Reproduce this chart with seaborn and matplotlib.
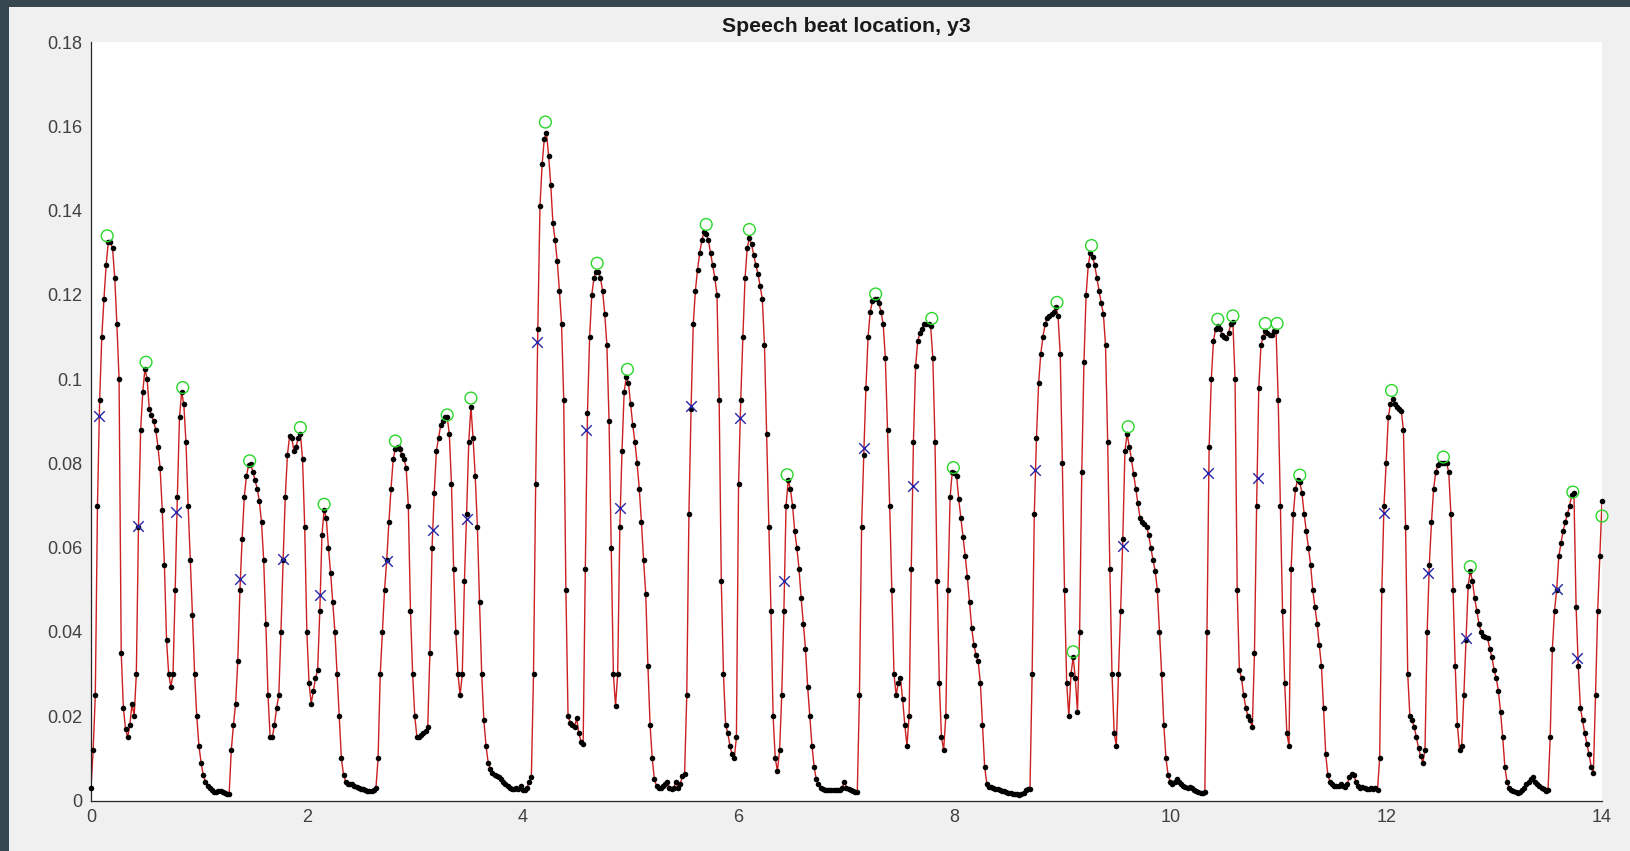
import numpy as np
import pandas as pd
import matplotlib
matplotlib.use("Agg")
import matplotlib.pyplot as plt
from matplotlib.patches import Rectangle
import seaborn as sns

# ---------------- data ----------------
SAMPLE_STEP = 0.02  # seconds between samples of the envelope

y_00 = [0.003, 0.012, 0.025, 0.070, 0.095, 0.110, 0.119, 0.127, 0.1325, 0.1325,
        0.131, 0.124, 0.113, 0.100, 0.035, 0.022, 0.017, 0.015, 0.018, 0.023,
        0.020, 0.030, 0.065, 0.088, 0.097, 0.1025, 0.100, 0.093, 0.0915, 0.090,
        0.088, 0.084, 0.079, 0.069, 0.056, 0.038, 0.030, 0.027, 0.030, 0.050,
        0.072, 0.091, 0.097, 0.094, 0.085, 0.070, 0.057, 0.044, 0.030, 0.020]
y_01 = [0.013, 0.009, 0.006, 0.0045, 0.0035, 0.003, 0.0025, 0.002, 0.002, 0.0022,
        0.0022, 0.002, 0.0018, 0.0016, 0.0016, 0.012, 0.018, 0.023, 0.033, 0.050,
        0.062, 0.072, 0.077, 0.0795, 0.0798, 0.078, 0.076, 0.074, 0.071, 0.066,
        0.057, 0.042, 0.025, 0.015, 0.015, 0.018, 0.022, 0.025, 0.040, 0.057,
        0.072, 0.082, 0.0865, 0.086, 0.083, 0.084, 0.086, 0.087, 0.081, 0.065]
y_02 = [0.040, 0.028, 0.023, 0.026, 0.029, 0.031, 0.045, 0.063, 0.069, 0.067,
        0.060, 0.054, 0.047, 0.040, 0.030, 0.020, 0.010, 0.006, 0.0045, 0.004,
        0.004, 0.0038, 0.0035, 0.0033, 0.003, 0.0028, 0.0027, 0.0025, 0.0023, 0.0022,
        0.0023, 0.0025, 0.003, 0.010, 0.030, 0.040, 0.050, 0.057, 0.066, 0.074,
        0.081, 0.0835, 0.084, 0.0835, 0.082, 0.081, 0.079, 0.070, 0.045, 0.030]
y_03 = [0.020, 0.015, 0.015, 0.0155, 0.016, 0.0165, 0.0175, 0.035, 0.060, 0.073,
        0.083, 0.086, 0.089, 0.090, 0.091, 0.091, 0.087, 0.075, 0.055, 0.040,
        0.030, 0.025, 0.030, 0.052, 0.068, 0.085, 0.0935, 0.086, 0.077, 0.065,
        0.047, 0.030, 0.019, 0.013, 0.009, 0.0075, 0.0065, 0.006, 0.0058, 0.0056,
        0.005, 0.0045, 0.004, 0.0035, 0.003, 0.0028, 0.0028, 0.003, 0.0028, 0.0035]
y_04 = [0.0025, 0.0025, 0.003, 0.0045, 0.0055, 0.030, 0.075, 0.112, 0.141, 0.151,
        0.157, 0.1585, 0.153, 0.146, 0.137, 0.133, 0.128, 0.121, 0.113, 0.095,
        0.050, 0.020, 0.0185, 0.018, 0.0175, 0.0195, 0.016, 0.014, 0.0135, 0.055,
        0.092, 0.110, 0.120, 0.124, 0.1255, 0.1255, 0.124, 0.121, 0.1155, 0.108,
        0.090, 0.060, 0.030, 0.0225, 0.030, 0.065, 0.083, 0.097, 0.1005, 0.099]
y_05 = [0.094, 0.089, 0.085, 0.080, 0.074, 0.066, 0.057, 0.049, 0.032, 0.018,
        0.010, 0.005, 0.0035, 0.003, 0.003, 0.0035, 0.004, 0.0045, 0.003, 0.0028,
        0.003, 0.0045, 0.003, 0.004, 0.0058, 0.0063, 0.025, 0.068, 0.093, 0.113,
        0.121, 0.126, 0.130, 0.133, 0.1348, 0.1345, 0.133, 0.130, 0.127, 0.124,
        0.120, 0.095, 0.052, 0.030, 0.018, 0.016, 0.013, 0.011, 0.010, 0.015]
y_06 = [0.075, 0.095, 0.110, 0.124, 0.131, 0.1335, 0.132, 0.1295, 0.127, 0.125,
        0.122, 0.119, 0.108, 0.087, 0.065, 0.045, 0.020, 0.010, 0.007, 0.012,
        0.025, 0.045, 0.070, 0.076, 0.074, 0.070, 0.064, 0.060, 0.055, 0.048,
        0.042, 0.036, 0.027, 0.020, 0.013, 0.008, 0.005, 0.004, 0.003, 0.0028,
        0.0026, 0.0025, 0.0025, 0.0025, 0.0025, 0.0026, 0.0026, 0.0026, 0.003, 0.0045]
y_07 = [0.003, 0.0028, 0.0025, 0.0022, 0.002, 0.002, 0.025, 0.065, 0.082, 0.098,
        0.110, 0.116, 0.1185, 0.119, 0.119, 0.118, 0.116, 0.113, 0.105, 0.088,
        0.070, 0.050, 0.030, 0.025, 0.028, 0.029, 0.024, 0.018, 0.013, 0.020,
        0.055, 0.085, 0.103, 0.109, 0.111, 0.112, 0.113, 0.113, 0.113, 0.1125,
        0.105, 0.085, 0.052, 0.028, 0.015, 0.012, 0.020, 0.050, 0.072, 0.078]
y_08 = [0.0778, 0.077, 0.0715, 0.067, 0.0625, 0.058, 0.053, 0.047, 0.041, 0.037,
        0.0345, 0.033, 0.028, 0.018, 0.008, 0.004, 0.0033, 0.0032, 0.003, 0.0028,
        0.0027, 0.0025, 0.0023, 0.0022, 0.002, 0.0018, 0.0017, 0.0016, 0.0015, 0.0015,
        0.0014, 0.0016, 0.0018, 0.0025, 0.0028, 0.0028, 0.030, 0.068, 0.086, 0.099,
        0.106, 0.110, 0.113, 0.1145, 0.115, 0.1155, 0.116, 0.117, 0.115, 0.106]
y_09 = [0.080, 0.050, 0.028, 0.020, 0.030, 0.034, 0.029, 0.021, 0.040, 0.078,
        0.104, 0.120, 0.127, 0.130, 0.129, 0.127, 0.124, 0.121, 0.118, 0.1155,
        0.108, 0.085, 0.055, 0.030, 0.016, 0.013, 0.030, 0.045, 0.062, 0.083,
        0.087, 0.084, 0.081, 0.0775, 0.074, 0.0705, 0.067, 0.066, 0.0655, 0.065,
        0.063, 0.060, 0.057, 0.0545, 0.050, 0.040, 0.030, 0.018, 0.010, 0.006]
y_10 = [0.0045, 0.004, 0.0045, 0.005, 0.0045, 0.004, 0.0035, 0.0032, 0.003, 0.0033,
        0.003, 0.0025, 0.0022, 0.002, 0.0018, 0.0018, 0.002, 0.040, 0.084, 0.100,
        0.109, 0.112, 0.1127, 0.112, 0.1105, 0.110, 0.1098, 0.111, 0.113, 0.1135,
        0.100, 0.050, 0.031, 0.029, 0.025, 0.022, 0.020, 0.019, 0.0175, 0.035,
        0.070, 0.098, 0.108, 0.110, 0.1115, 0.111, 0.1105, 0.1105, 0.1115, 0.1115]
y_11 = [0.095, 0.070, 0.045, 0.028, 0.016, 0.013, 0.055, 0.068, 0.074, 0.076,
        0.0755, 0.073, 0.068, 0.064, 0.060, 0.056, 0.050, 0.046, 0.042, 0.037,
        0.032, 0.022, 0.011, 0.006, 0.0045, 0.004, 0.0035, 0.0034, 0.0035, 0.004,
        0.0035, 0.0033, 0.004, 0.0055, 0.0063, 0.006, 0.0045, 0.0035, 0.003, 0.0033,
        0.003, 0.0028, 0.0027, 0.003, 0.0028, 0.003, 0.0025, 0.010, 0.050, 0.070]
y_12 = [0.080, 0.091, 0.094, 0.0952, 0.094, 0.0935, 0.093, 0.0925, 0.088, 0.065,
        0.030, 0.020, 0.019, 0.0175, 0.015, 0.0125, 0.0105, 0.009, 0.012, 0.040,
        0.056, 0.066, 0.074, 0.078, 0.0795, 0.080, 0.0801, 0.0801, 0.080, 0.078,
        0.068, 0.050, 0.032, 0.018, 0.012, 0.013, 0.025, 0.038, 0.051, 0.0545,
        0.052, 0.048, 0.045, 0.042, 0.040, 0.039, 0.0388, 0.0385, 0.036, 0.034]
y_13 = [0.031, 0.029, 0.026, 0.021, 0.015, 0.008, 0.0045, 0.003, 0.0025, 0.0022,
        0.002, 0.0018, 0.002, 0.0025, 0.003, 0.0038, 0.0045, 0.0052, 0.0055, 0.0045,
        0.004, 0.0035, 0.003, 0.0028, 0.0022, 0.0025, 0.015, 0.036, 0.045, 0.050,
        0.058, 0.061, 0.064, 0.066, 0.068, 0.070, 0.0725, 0.073, 0.046, 0.032,
        0.022, 0.019, 0.016, 0.0135, 0.011, 0.008, 0.0065, 0.025, 0.045, 0.058,
        0.071]

# beat peaks (green circles)
peak_t = [0.15, 0.51, 0.85, 1.47, 1.94, 2.16, 2.82, 3.30, 3.52, 4.21, 4.69, 4.97,
          5.70, 6.10, 6.45, 7.27, 7.79, 7.99, 8.95, 9.10, 9.27, 9.61, 10.44, 10.58,
          10.88, 10.99, 11.20, 12.05, 12.53, 12.78, 13.73, 14.00]
peak_y = [0.134, 0.104, 0.098, 0.0806, 0.0885, 0.0703, 0.0853, 0.0915, 0.0955, 0.161,
          0.1275, 0.1023, 0.1367, 0.1355, 0.0773, 0.1202, 0.1144, 0.0790, 0.1182,
          0.0353, 0.1317, 0.0887, 0.1142, 0.1150, 0.1132, 0.1132, 0.0772, 0.0973,
          0.0815, 0.0555, 0.0732, 0.0675]

# beat locations (blue crosses)
beat_t = [0.07, 0.44, 0.79, 1.38, 1.78, 2.12, 2.74, 3.17, 3.48, 4.13, 4.59, 4.90,
          5.56, 6.01, 6.42, 7.16, 7.62, 8.75, 9.56, 10.35, 10.81, 11.98, 12.39,
          12.74, 13.58, 13.77]
beat_y = [0.0912, 0.0651, 0.0685, 0.0525, 0.0573, 0.0488, 0.0568, 0.0641, 0.0668,
          0.1087, 0.0879, 0.0695, 0.0937, 0.0908, 0.0522, 0.0837, 0.0746, 0.0785,
          0.0604, 0.0778, 0.0766, 0.0682, 0.0540, 0.0386, 0.0502, 0.0338]

x_ticks = [0, 2, 4, 6, 8, 10, 12, 14]
y_ticks = [0, 0.02, 0.04, 0.06, 0.08, 0.1, 0.12, 0.14, 0.16, 0.18]
y_tick_labels = ["0", "0.02", "0.04", "0.06", "0.08", "0.1", "0.12", "0.14", "0.16", "0.18"]
title = "Speech beat location, y3"

# ---------------- build tables ----------------
env_y = (y_00 + y_01 + y_02 + y_03 + y_04 + y_05 + y_06 + y_07 + y_08 + y_09
         + y_10 + y_11 + y_12 + y_13)
env = pd.DataFrame({"t": np.arange(len(env_y)) * SAMPLE_STEP, "y": env_y})
peaks = pd.DataFrame({"t": peak_t, "y": peak_y})
beats = pd.DataFrame({"t": beat_t, "y": beat_y})

# ---------------- style ----------------
sns.set_theme(style="white")
plt.rcParams["font.family"] = ["Liberation Sans", "DejaVu Sans"]

W, H = 1630, 851
fig = plt.figure(figsize=(W / 100, H / 100), dpi=100)
fig.patch.set_facecolor("#f0f0f0")
ax = fig.add_axes([91 / W, 1 - 800.5 / H, (1602 - 91) / W, (800.5 - 42) / H])
ax.set_facecolor("white")

# dark frame bands (top and left)
fig.add_artist(Rectangle((0, 1 - 7 / H), 1, 7 / H, transform=fig.transFigure,
                         facecolor="#37474f", edgecolor="none", zorder=10))
fig.add_artist(Rectangle((0, 0), 9 / W, 1, transform=fig.transFigure,
                         facecolor="#37474f", edgecolor="none", zorder=10))

# ---------------- marks ----------------
sns.lineplot(data=env, x="t", y="y", ax=ax, color="#cc1f1f", linewidth=1.0,
             estimator=None, sort=False, zorder=2)
sns.scatterplot(data=env, x="t", y="y", ax=ax, color="black", s=16,
                linewidth=0, zorder=3)
sns.scatterplot(data=peaks, x="t", y="y", ax=ax, marker="o", s=72,
                facecolors="none", edgecolor="#2bd62b", linewidth=1.0, zorder=4)
sns.scatterplot(data=beats, x="t", y="y", ax=ax, marker="x", s=58,
                color="#2626a8", linewidth=1.0, zorder=5)
for coll in ax.collections:
    coll.set_clip_on(False)

# ---------------- axes ----------------
ax.set_xlim(0, 14)
ax.set_ylim(0, 0.18)
ax.set_xticks(x_ticks)
ax.set_xticklabels([str(v) for v in x_ticks])
ax.set_yticks(y_ticks)
ax.set_yticklabels(y_tick_labels)
ax.set_xlabel("")
ax.set_ylabel("")
for side in ("top", "right"):
    ax.spines[side].set_visible(False)
for side in ("left", "bottom"):
    ax.spines[side].set_color("#262626")
    ax.spines[side].set_linewidth(0.9)
ax.tick_params(axis="both", direction="in", length=10, width=0.9,
               color="#262626", labelcolor="#404040", labelsize=13)
ax.tick_params(axis="x", pad=6)
ax.tick_params(axis="y", pad=6)
ax.set_title(title, fontsize=15.3, fontweight="bold", color="#1a1a1a", pad=7)

fig.savefig("out.png", dpi=100, facecolor=fig.get_facecolor())
